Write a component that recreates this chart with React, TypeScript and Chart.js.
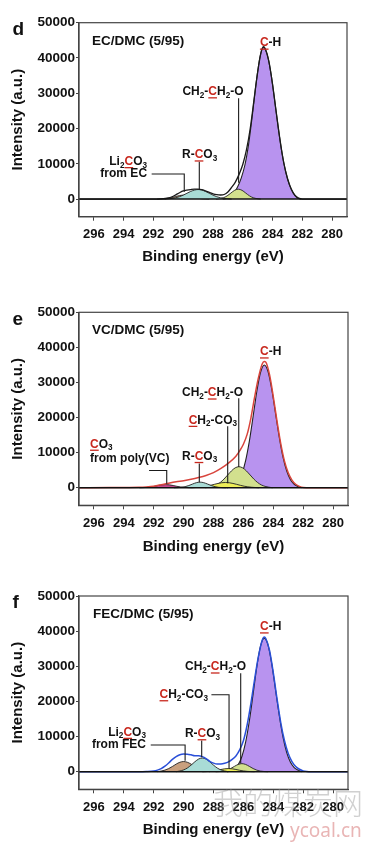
import React, { useEffect, useRef } from "react";
import { Chart, registerables } from "chart.js";

Chart.register(...registerables);

const FONT = '"Liberation Sans", Arial, Helvetica, sans-serif';

// ---------- axes ----------
const xTicks = [296, 294, 292, 290, 288, 286, 284, 282, 280];
const yTicks = [0, 10000, 20000, 30000, 40000, 50000];
const xTitle = "Binding energy (eV)";
const yTitle = "Intensity (a.u.)";

// ---------- panel d : EC/DMC (5/95) ----------
const dLiE = [291.75, 291.5, 291.25, 291, 290.75, 290.5, 290.25, 290, 289.75, 289.5, 289.25, 289, 288.75, 288.5, 288.25];
const dLiI = [0, 30, 80, 210, 430, 730, 990, 1100, 990, 730, 430, 210, 80, 30, 0];
const dRcoE = [291.25, 291, 290.75, 290.5, 290.25, 290, 289.75, 289.5, 289.25, 289, 288.75, 288.5, 288.25, 288, 287.75, 287.5, 287.25, 287, 286.75];
const dRcoI = [0, 80, 180, 370, 670, 1110, 1640, 2160, 2550, 2700, 2550, 2160, 1640, 1110, 670, 370, 180, 80, 0];
const dEthE = [287.8, 287.55, 287.3, 287.05, 286.8, 286.55, 286.3, 286.05, 285.8, 285.55, 285.3, 285.05, 284.8];
const dEthI = [0, 120, 380, 910, 1700, 2470, 2800, 2470, 1700, 910, 380, 120, 0];
const dChE = [287.35, 287.1, 286.85, 286.6, 286.35, 286.1, 285.85, 285.6, 285.35, 285.1, 284.85, 284.6, 284.35, 284.1, 283.85, 283.6, 283.35, 283.1, 282.85, 282.6, 282.35, 282.1];
const dChI = [0, 150, 700, 1700, 3400, 6000, 9800, 15800, 24000, 33000, 40200, 43000, 40900, 35400, 27700, 19700, 12700, 7400, 3800, 1600, 350, 0];
const dRawE = [297, 294, 292, 291.5, 291, 290.75, 290.5, 290.25, 290, 289.75, 289.5, 289.25, 289, 288.75, 288.5, 288.25, 288, 287.75, 287.5, 287.25, 287, 286.75, 286.5, 286.25, 286, 285.75, 285.5, 285.25, 285, 284.75, 284.6, 284.5, 284.25, 284, 283.75, 283.5, 283.25, 283, 282.75, 282.5, 282.25, 282, 281, 279];
const dRawI = [0, 0, 0, 50, 300, 650, 1200, 1800, 2300, 2550, 2700, 2800, 2800, 2650, 2300, 1900, 1500, 1250, 1150, 1300, 2000, 3300, 4800, 7000, 9800, 14000, 20000, 28000, 36000, 42000, 43200, 42700, 39100, 32500, 24500, 16800, 10300, 5900, 2900, 1100, 250, 0, 0, 0];

// ---------- panel e : VC/DMC (5/95) ----------
const eVcE = [292.95, 292.7, 292.45, 292.2, 291.95, 291.7, 291.45, 291.2, 290.95, 290.7, 290.45, 290.2, 289.95, 289.7, 289.45];
const eVcI = [0, 40, 100, 225, 410, 640, 825, 900, 825, 640, 410, 225, 100, 40, 0];
const eRcoE = [290.65, 290.4, 290.15, 289.9, 289.65, 289.4, 289.15, 288.9, 288.65, 288.4, 288.15, 287.9, 287.65, 287.4, 287.15];
const eRcoI = [0, 40, 120, 310, 630, 1060, 1440, 1600, 1440, 1060, 630, 310, 120, 40, 0];
const eCh2co3E = [289.45, 289.2, 288.95, 288.7, 288.45, 288.2, 287.95, 287.7, 287.45, 287.2, 286.95, 286.7, 286.45, 286.2, 285.95, 285.7, 285.45, 285.2, 284.95];
const eCh2co3I = [0, 66, 140, 260, 440, 690, 970, 1230, 1430, 1500, 1430, 1230, 970, 690, 440, 260, 140, 66, 0];
const eEthE = [288.55, 288.3, 288.05, 287.8, 287.55, 287.3, 287.05, 286.8, 286.55, 286.3, 286.05, 285.8, 285.55, 285.3, 285.05, 284.8, 284.55, 284.3, 284.05];
const eEthI = [0, 170, 395, 810, 1500, 2470, 3640, 4800, 5670, 6000, 5670, 4800, 3640, 2470, 1500, 810, 395, 170, 0];
const eChE = [287.1, 286.85, 286.6, 286.35, 286.1, 285.85, 285.6, 285.35, 285.1, 284.85, 284.6, 284.35, 284.1, 283.85, 283.6, 283.35, 283.1, 282.85, 282.6, 282.35, 282.1];
const eChI = [0, 270, 735, 1820, 3990, 7760, 13300, 20300, 27500, 32900, 35000, 33100, 28000, 21200, 14400, 8700, 4730, 2300, 1000, 380, 0];
const eRawE = [297, 295, 293, 292.5, 292, 291.5, 291, 290.5, 290, 289.5, 289, 288.5, 288, 287.5, 287, 286.5, 286.25, 286, 285.75, 285.5, 285.25, 285, 284.75, 284.6, 284.5, 284.25, 284, 283.75, 283.5, 283.25, 283, 282.75, 282.5, 282.25, 282, 281.5, 279];
const eRawI = [0, 50, 150, 250, 450, 850, 1300, 1700, 2000, 2400, 2900, 3500, 4300, 5500, 7000, 9000, 10500, 12400, 15200, 19800, 25800, 31200, 35200, 36000, 35800, 32200, 26000, 19000, 12600, 7600, 4300, 2200, 1000, 400, 100, 0, 0];

// ---------- panel f : FEC/DMC (5/95) ----------
const fLiE = [291.75, 291.5, 291.25, 291, 290.75, 290.5, 290.25, 290, 289.75, 289.5, 289.25, 289, 288.75, 288.5, 288.25];
const fLiI = [0, 200, 460, 890, 1490, 2160, 2690, 2900, 2690, 2160, 1490, 890, 460, 200, 0];
const fRcoE = [290.5, 290.25, 290, 289.75, 289.5, 289.25, 289, 288.75, 288.5, 288.25, 288, 287.75, 287.5, 287.25, 287];
const fRcoI = [0, 210, 510, 1060, 1880, 2820, 3600, 3900, 3600, 2820, 1880, 1060, 510, 210, 0];
const fCh2co3E = [288.75, 288.5, 288.25, 288, 287.75, 287.5, 287.25, 287, 286.75, 286.5, 286.25, 286, 285.75, 285.5, 285.25];
const fCh2co3I = [0, 40, 100, 225, 410, 640, 825, 900, 825, 640, 410, 225, 100, 40, 0];
const fEthE = [287.85, 287.6, 287.35, 287.1, 286.85, 286.6, 286.35, 286.1, 285.85, 285.6, 285.35, 285.1, 284.85, 284.6, 284.35];
const fEthI = [0, 55, 175, 440, 910, 1520, 2070, 2300, 2070, 1520, 910, 440, 175, 55, 0];
const fChE = [287.1, 286.85, 286.6, 286.35, 286.1, 285.85, 285.6, 285.35, 285.1, 284.85, 284.6, 284.35, 284.1, 283.85, 283.6, 283.35, 283.1, 282.85, 282.6, 282.35, 282.1];
const fChI = [0, 290, 800, 1980, 4330, 8420, 14500, 22100, 29900, 35800, 38000, 36000, 30600, 23300, 16000, 9820, 5420, 2680, 1190, 475, 0];
const fRawE = [297, 293, 292.5, 292, 291.75, 291.5, 291.25, 291, 290.75, 290.5, 290.25, 290, 289.75, 289.5, 289.25, 289, 288.75, 288.5, 288.25, 288, 287.75, 287.5, 287.25, 287, 286.75, 286.5, 286.25, 286, 285.75, 285.5, 285.25, 285, 284.75, 284.6, 284.5, 284.25, 284, 283.75, 283.5, 283.25, 283, 282.75, 282.5, 282.25, 282, 281.75, 281.5, 279];
const fRawI = [0, 0, 50, 200, 450, 900, 1600, 2500, 3500, 4300, 4850, 5050, 5000, 4800, 4550, 4550, 4300, 3750, 2950, 2450, 2200, 2200, 2400, 2800, 3500, 4500, 6200, 8800, 13300, 19400, 26300, 32700, 37300, 38300, 37900, 34500, 28200, 20800, 14000, 8800, 5200, 2900, 1500, 700, 250, 60, 0, 0];

// ---------- annotations (text in data coordinates) ----------
const dLabels = [
  { x: 296.13, y: 44600, align: "left", text: "EC/DMC (5/95)", big: true },
  { x: 284.85, y: 44200, align: "left", text: "[C]-H" },
  { x: 285.95, y: 30400, align: "right", text: "CH₂-[C]H₂-O" },
  { x: 290.08, y: 12500, align: "left", text: "R-[C]O₃" },
  { x: 292.43, y: 10600, align: "right", text: "Li₂[C]O₃" },
  { x: 292.43, y: 7300, align: "right", text: "from EC" },
];
const dLeaders = [
  [[286.28, 28600], [286.28, 4600]],
  [[288.92, 10600], [288.92, 2550]],
  [[292.12, 7100], [289.93, 7100], [289.93, 2070]],
];
const eLabels = [
  { x: 296.13, y: 44900, align: "left", text: "VC/DMC (5/95)", big: true },
  { x: 284.89, y: 38700, align: "left", text: "[C]-H" },
  { x: 286.02, y: 27000, align: "right", text: "CH₂-[C]H₂-O" },
  { x: 286.42, y: 19200, align: "right", text: "[C]H₂-CO₃" },
  { x: 296.26, y: 12400, align: "left", text: "[C]O₃" },
  { x: 296.26, y: 8300, align: "left", text: "from poly(VC)" },
  { x: 290.11, y: 8900, align: "left", text: "R-[C]O₃" },
];
const eLeaders = [
  [[286.31, 25500], [286.31, 5900]],
  [[287.05, 17500], [287.05, 1300]],
  [[292.31, 4900], [291.13, 4900], [291.13, 1140]],
  [[288.95, 6900], [288.95, 1600]],
];
const fLabels = [
  { x: 296.06, y: 44900, align: "left", text: "FEC/DMC (5/95)", big: true },
  { x: 284.89, y: 41200, align: "left", text: "[C]-H" },
  { x: 285.82, y: 29800, align: "right", text: "CH₂-[C]H₂-O" },
  { x: 288.37, y: 21900, align: "right", text: "[C]H₂-CO₃" },
  { x: 289.91, y: 10800, align: "left", text: "R-[C]O₃" },
  { x: 292.52, y: 11200, align: "right", text: "Li₂[C]O₃" },
  { x: 292.52, y: 7600, align: "right", text: "from FEC" },
];
const fLeaders = [
  [[286.18, 28000], [286.18, 2400]],
  [[288.14, 21900], [286.96, 21900], [286.96, 770]],
  [[288.79, 8900], [288.79, 4100]],
  [[292.2, 7600], [289.9, 7600], [289.9, 3140]],
];

// ---------- styles ----------
const C_PURPLE = "#b893ef";
const C_GREEN = "#d2e08e";
const C_YELLOW = "#eeee58";
const C_CYAN = "#a9dcd6";
const C_BROWN = "#c9a07e";
const C_MAGENTA = "#c9478f";
const C_RED = "#d8443c";
const C_BLUE = "#2a4fd8";
const C_LABEL_RED = "#c8281e";

type Series = { e: number[]; v: number[]; fill?: string; line: string; width: number; order: number };

const PANELS = [
  {
    letter: "d", top: 0, height: 280, padTop: 22.7, padRight: 38, xAxisH: 63.3, xTitlePad: 14, letterY: 35,
    series: [
      { e: dRawE, v: dRawI, line: "#1a1a1a", width: 1.3, order: 0 },
      { e: dRcoE, v: dRcoI, fill: C_CYAN, line: "#222", width: 0.9, order: 2 },
      { e: dLiE, v: dLiI, fill: C_BROWN, line: "#222", width: 0.9, order: 3 },
      { e: dEthE, v: dEthI, fill: C_GREEN, line: "#222", width: 0.9, order: 5 },
      { e: dChE, v: dChI, fill: C_PURPLE, line: "#222", width: 1.1, order: 6 },
    ] as Series[],
    labels: dLabels, leaders: dLeaders, watermark: false,
  },
  {
    letter: "e", top: 280, height: 280, padTop: 32.3, padRight: 37, xAxisH: 54.7, xTitlePad: 4, letterY: 45,
    series: [
      { e: eRawE, v: eRawI, line: C_RED, width: 1.5, order: 0 },
      { e: eVcE, v: eVcI, fill: C_MAGENTA, line: "#222", width: 0.9, order: 1 },
      { e: eRcoE, v: eRcoI, fill: C_CYAN, line: "#222", width: 0.9, order: 2 },
      { e: eCh2co3E, v: eCh2co3I, fill: C_YELLOW, line: "#222", width: 0.9, order: 4 },
      { e: eEthE, v: eEthI, fill: C_GREEN, line: "#222", width: 0.9, order: 5 },
      { e: eChE, v: eChI, fill: C_PURPLE, line: "#222", width: 1.1, order: 6 },
    ] as Series[],
    labels: eLabels, leaders: eLeaders, watermark: false,
  },
  {
    letter: "f", top: 560, height: 290, padTop: 36, padRight: 37, xAxisH: 60.7, xTitlePad: 11, letterY: 48.3,
    series: [
      { e: fRawE, v: fRawI, line: C_BLUE, width: 1.5, order: 0 },
      { e: fRcoE, v: fRcoI, fill: C_CYAN, line: "#222", width: 0.9, order: 2 },
      { e: fLiE, v: fLiI, fill: C_BROWN, line: "#222", width: 0.9, order: 3 },
      { e: fCh2co3E, v: fCh2co3I, fill: C_YELLOW, line: "#222", width: 0.9, order: 4 },
      { e: fEthE, v: fEthI, fill: C_GREEN, line: "#222", width: 0.9, order: 5 },
      { e: fChE, v: fChI, fill: C_PURPLE, line: "#222", width: 1.1, order: 6 },
    ] as Series[],
    labels: fLabels, leaders: fLeaders, watermark: true,
  },
];

type Run = { t: string; red?: boolean; sub?: boolean };
function parseRuns(s: string): Run[] {
  const runs: Run[] = [];
  let red = false;
  for (const ch of s) {
    if (ch === "[") { red = true; continue; }
    if (ch === "]") { red = false; continue; }
    if (ch === "₂" || ch === "₃") { runs.push({ t: ch === "₂" ? "2" : "3", sub: true }); continue; }
    const last = runs[runs.length - 1];
    if (last && !last.sub && !!last.red === red) last.t += ch;
    else runs.push({ t: ch, red });
  }
  return runs;
}

function drawRich(ctx: CanvasRenderingContext2D, text: string, x: number, y: number, align: string, size: number) {
  const runs = parseRuns(text);
  const mainF = `bold ${size}px ${FONT}`;
  const subF = `bold ${Math.round(size * 0.68 * 10) / 10}px ${FONT}`;
  const widths = runs.map((r) => {
    ctx.font = r.sub ? subF : mainF;
    return ctx.measureText(r.t).width;
  });
  const total = widths.reduce((a, b) => a + b, 0);
  let cx = align === "right" ? x - total : align === "center" ? x - total / 2 : x;
  ctx.textAlign = "left";
  ctx.textBaseline = "middle";
  runs.forEach((r, i) => {
    ctx.font = r.sub ? subF : mainF;
    ctx.fillStyle = r.red ? C_LABEL_RED : "#111";
    ctx.fillText(r.t, cx, r.sub ? y + size * 0.3 : y);
    if (r.red) {
      ctx.strokeStyle = C_LABEL_RED;
      ctx.lineWidth = 1.3;
      ctx.beginPath();
      ctx.moveTo(cx, y + size * 0.5);
      ctx.lineTo(cx + widths[i], y + size * 0.5);
      ctx.stroke();
    }
    cx += widths[i];
  });
}

function makePlugin(p: (typeof PANELS)[number]) {
  return {
    id: "xpsDecor",
    afterDraw(chart: any) {
      const ctx: CanvasRenderingContext2D = chart.ctx;
      const a = chart.chartArea;
      const xs = chart.scales.x;
      const ys = chart.scales.y;
      ctx.save();
      // zero line
      ctx.strokeStyle = "#111";
      ctx.lineWidth = 1.5;
      ctx.beginPath();
      ctx.moveTo(a.left, ys.getPixelForValue(0));
      ctx.lineTo(a.right, ys.getPixelForValue(0));
      ctx.stroke();
      // frame
      ctx.strokeStyle = "#444";
      ctx.lineWidth = 1.2;
      ctx.strokeRect(a.left, a.top, a.right - a.left, a.bottom - a.top);
      // leaders
      ctx.strokeStyle = "#1a1a1a";
      ctx.lineWidth = 1.1;
      p.leaders.forEach((pts: number[][]) => {
        ctx.beginPath();
        pts.forEach(([e, v], i) => {
          const px = xs.getPixelForValue(e);
          const py = ys.getPixelForValue(v);
          if (i === 0) ctx.moveTo(px, py);
          else ctx.lineTo(px, py);
        });
        ctx.stroke();
      });
      // labels
      p.labels.forEach((l: any) => {
        drawRich(ctx, l.text, xs.getPixelForValue(l.x), ys.getPixelForValue(l.y), l.align, l.big ? 13.5 : 12);
      });
      // panel letter
      ctx.font = `bold 19px ${FONT}`;
      ctx.fillStyle = "#111";
      ctx.textAlign = "left";
      ctx.textBaseline = "alphabetic";
      ctx.fillText(p.letter, 12.5, p.letterY);
      if (p.watermark) {
        ctx.font = `300 30px "Noto Sans CJK SC", sans-serif`;
        ctx.fillStyle = "rgba(150,150,150,0.45)";
        ctx.textBaseline = "middle";
        ctx.fillText("我的煤炭网", 213, 243);
        ctx.font = `19px "Noto Sans", sans-serif`;
        ctx.fillStyle = "rgba(215,120,120,0.55)";
        ctx.fillText("ycoal.cn", 290, 272);
      }
      ctx.restore();
    },
  };
}

function PanelChart({ p }: { p: (typeof PANELS)[number] }) {
  const ref = useRef<HTMLCanvasElement | null>(null);
  useEffect(() => {
    if (!ref.current) return;
    const chart = new Chart(ref.current, {
      type: "line",
      data: {
        datasets: p.series.map((s) => ({
          data: s.e.map((x, i) => ({ x, y: s.v[i] })),
          borderColor: s.line,
          borderWidth: s.width,
          backgroundColor: s.fill ?? "transparent",
          fill: s.fill ? "origin" : false,
          pointRadius: 0,
          cubicInterpolationMode: "monotone",
          order: s.order,
        })),
      },
      options: {
        responsive: false,
        animation: false,
        events: [],
        layout: { padding: { top: p.padTop, right: p.padRight, left: 0, bottom: 0 } },
        plugins: { legend: { display: false }, tooltip: { enabled: false }, title: { display: false } },
        scales: {
          x: {
            type: "linear",
            reverse: true,
            min: 279,
            max: 297,
            afterBuildTicks: (s: any) => { s.ticks = xTicks.map((v) => ({ value: v })); },
            afterFit: (s: any) => { s.height = p.xAxisH; },
            ticks: {
              font: { family: FONT, size: 13, weight: "bold" },
              color: "#111",
              padding: 6,
              maxRotation: 0,
              autoSkip: false,
              callback: (v: any) => String(v),
            },
            grid: { display: true, drawOnChartArea: false, drawTicks: true, tickLength: 4, color: "#444", lineWidth: 1 },
            border: { display: true, color: "#444", width: 1.2 },
            title: {
              display: true,
              text: xTitle,
              font: { family: FONT, size: 15, weight: "bold" },
              color: "#111",
              padding: { top: 0, bottom: p.xTitlePad },
            },
          },
          y: {
            type: "linear",
            min: -5000,
            max: 50000,
            afterBuildTicks: (s: any) => { s.ticks = yTicks.map((v) => ({ value: v })); },
            afterFit: (s: any) => { s.width = 79; },
            ticks: {
              font: { family: FONT, size: 13.5, weight: "bold" },
              color: "#111",
              padding: 1,
              callback: (v: any) => String(v),
            },
            grid: { display: true, drawOnChartArea: false, drawTicks: true, tickLength: 3, color: "#444", lineWidth: 1 },
            border: { display: true, color: "#444", width: 1.2 },
            title: {
              display: true,
              text: yTitle,
              font: { family: FONT, size: 15, weight: "bold" },
              color: "#111",
              padding: { top: 9.3, bottom: 0 },
            },
          },
        },
      } as any,
      plugins: [makePlugin(p)],
    });
    return () => chart.destroy();
  }, [p]);
  return (
    <canvas
      ref={ref}
      width={385}
      height={p.height}
      style={{ position: "absolute", left: 0, top: p.top, width: 385, height: p.height }}
    />
  );
}

export default function App() {
  useEffect(() => {
    document.body.style.margin = "0";
  }, []);
  return (
    <div style={{ position: "relative", width: 385, height: 850, background: "#fff", overflow: "hidden" }}>
      {PANELS.map((p) => (
        <PanelChart key={p.letter} p={p} />
      ))}
    </div>
  );
}
